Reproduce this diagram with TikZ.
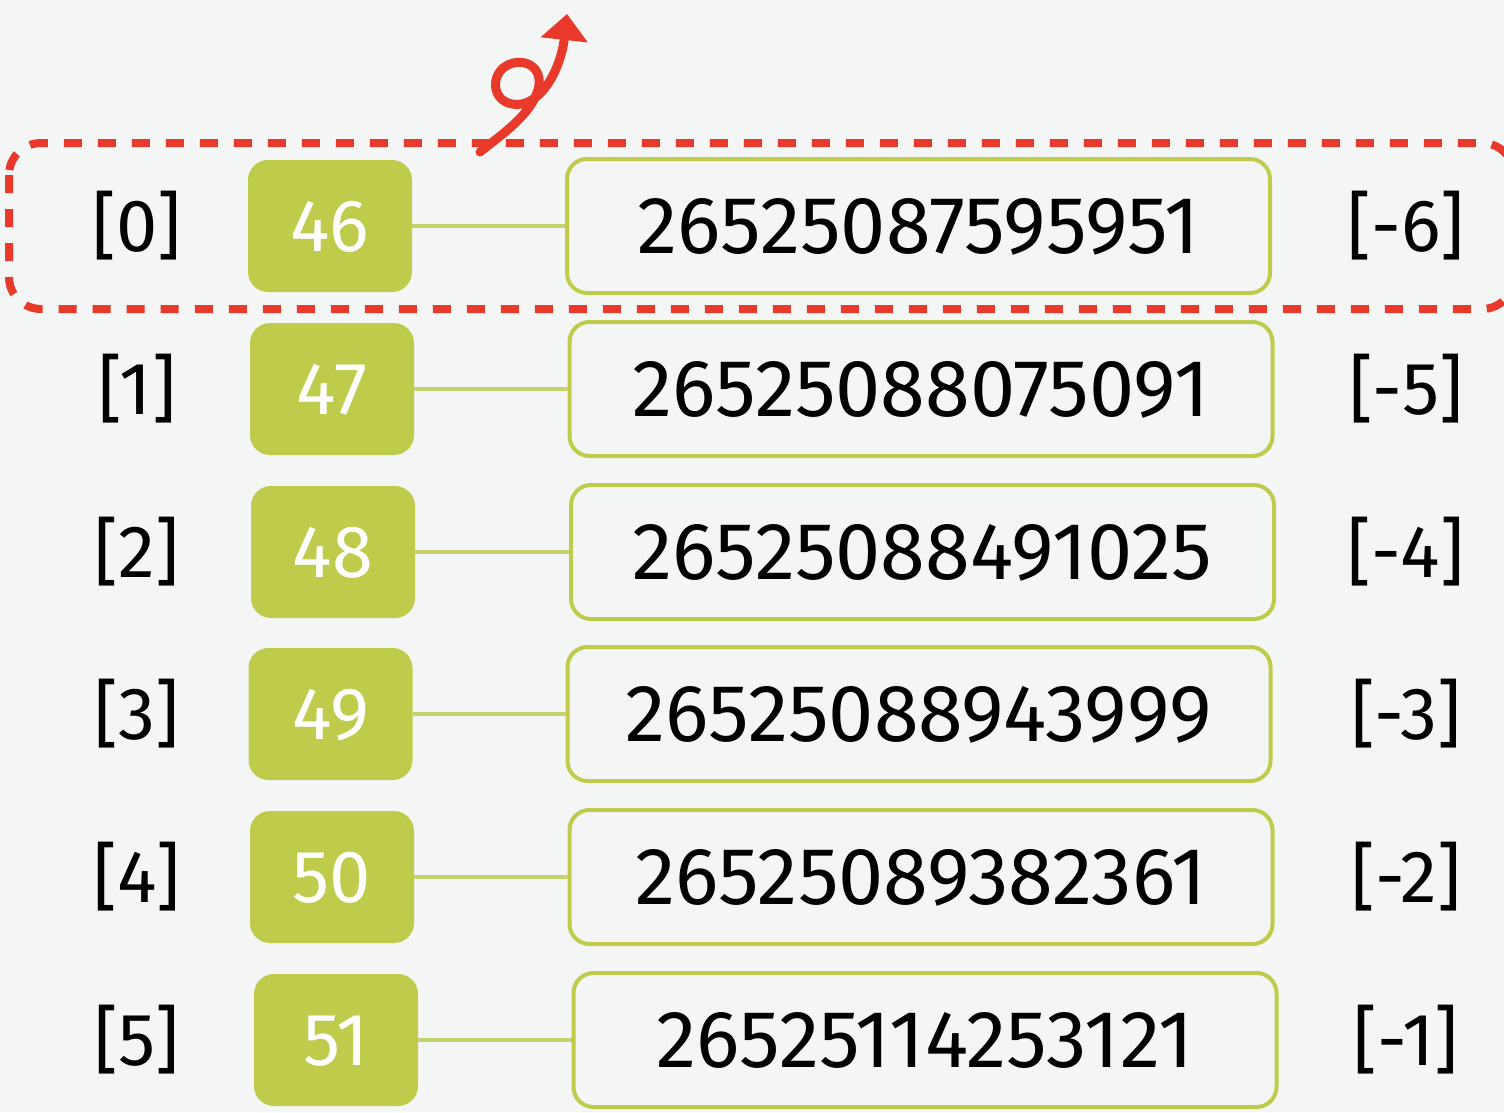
\documentclass[tikz,border=0pt]{standalone}
\usepackage{fontspec}
\setmainfont{Fira Sans}
\usetikzlibrary{arrows.meta}
\definecolor{bgc}{HTML}{F4F6F6}
\definecolor{limec}{HTML}{BFCC4B}
\definecolor{linelime}{HTML}{C6D26C}
\definecolor{redc}{HTML}{E8392B}
\begin{document}
\begin{tikzpicture}[x=1pt,y=-1pt,
  numfont/.style={font=\fontsize{74}{80}\selectfont, text height=51pt, text depth=0pt, inner sep=0pt},
  idx/.style={numfont, text=black},
  sq/.style={numfont, fill=limec, rounded corners=20pt, minimum width=164pt, minimum height=132pt, text=white},
  valbox/.style={numfont, font=\fontsize{81}{86}\selectfont, text height=54pt, draw=limec, line width=4pt, rounded corners=20pt, minimum width=703pt, minimum height=134pt, text=black},
  link/.style={draw=linelime, line width=4pt},
  selbox/.style={draw=redc, line width=8pt, rounded corners=32pt, dash pattern=on 18pt off 16pt},
  curl/.style={draw=redc, line width=9pt, line cap=round, -{Triangle[length=26pt,width=46pt]}}]
\fill[bgc] (0,0) rectangle (1504,1112);
\clip (0,0) rectangle (1504,1112);
% rows
\node[idx] (l0) at (137,226) {[0]};
\node[sq] (s0) at (330,226) {46};
\node[valbox] (v0) at (918.5,226) {26525087595951};
\node[idx] (r0) at (1406,226) {[-6]};
\node[idx] (l1) at (137,389) {[1]};
\node[sq] (s1) at (332,389) {47};
\node[valbox] (v1) at (921,389) {26525088075091};
\node[idx] (r1) at (1406,389) {[-5]};
\node[idx] (l2) at (137,552) {[2]};
\node[sq] (s2) at (333,552) {48};
\node[valbox] (v2) at (922.5,552) {26525088491025};
\node[idx] (r2) at (1406,552) {[-4]};
\node[idx] (l3) at (137,714) {[3]};
\node[sq] (s3) at (330.5,714) {49};
\node[valbox] (v3) at (919,714) {26525088943999};
\node[idx] (r3) at (1406,714) {[-3]};
\node[idx] (l4) at (137,877) {[4]};
\node[sq] (s4) at (332,877) {50};
\node[valbox] (v4) at (921,877) {26525089382361};
\node[idx] (r4) at (1406,877) {[-2]};
\node[idx] (l5) at (137,1040) {[5]};
\node[sq] (s5) at (336,1040) {51};
\node[valbox] (v5) at (925,1040) {26525114253121};
\node[idx] (r5) at (1406,1040) {[-1]};
% connectors
\foreach \i in {0,...,5} {\draw[link] (s\i.east) -- (v\i.west);}
% selection
\draw[selbox] (9,143) rectangle (1514,309);
% curly arrow
\coordinate (cs) at (480,152);
\coordinate (ce) at (567,14);
\draw[curl] (cs) .. controls (505,132) and (530,115) .. (538,90)
  .. controls (545,65) and (520,55) .. (503,68)
  .. controls (488,82) and (496,108) .. (522,104)
  .. controls (548,98) and (562,60) .. (ce);
\end{tikzpicture}
\end{document}
